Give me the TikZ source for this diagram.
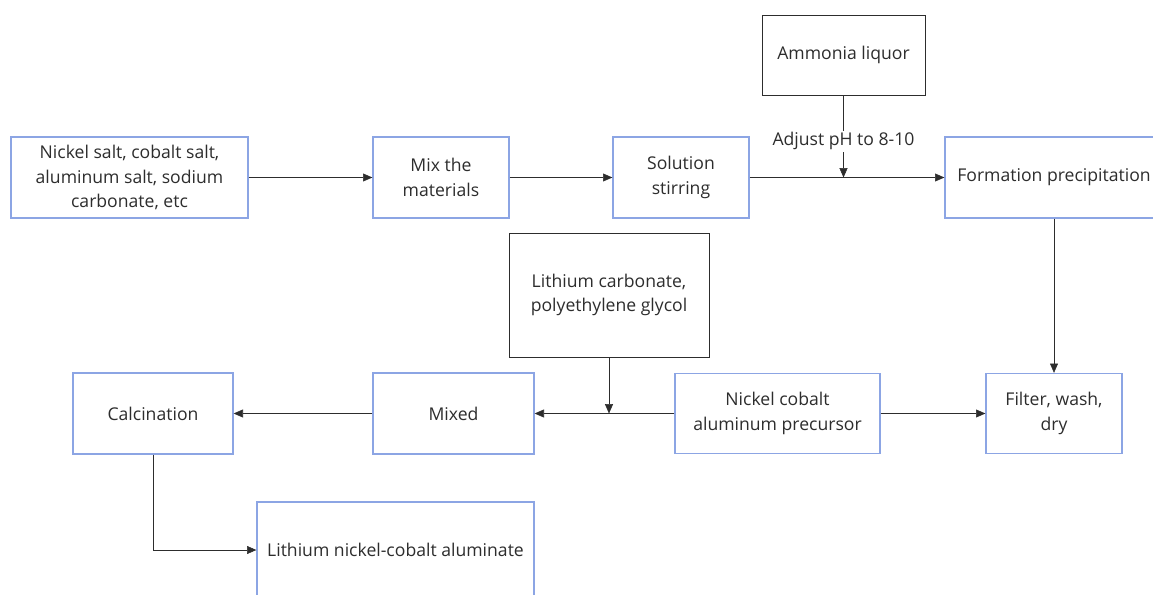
\documentclass[tikz,border=0pt]{standalone}
\usepackage{fontspec}
\setmainfont{Open Sans}
\usepackage{xcolor}
\usetikzlibrary{arrows.meta}
\definecolor{boxblue}{RGB}{140,165,228}
\definecolor{inkgray}{RGB}{45,45,45}

\begin{document}
\begin{tikzpicture}[x=0.75pt, y=-0.75pt, font=\fontsize{13.2pt}{18.4pt}\selectfont, text=inkgray,
  proc/.style={draw=boxblue, line width=1pt, align=center, fill=white, inner sep=2pt},
  feed/.style={draw=inkgray, line width=0.7pt, align=center, fill=white, inner sep=2pt},
  >={Triangle[length=7pt, width=6pt]}]
\useasboundingbox (0,0) rectangle (1153,595);
\node[proc, minimum width=177.75pt, minimum height=60.75pt] (salts) at (129.5,177.5) {Nickel salt, cobalt salt,\\aluminum salt, sodium\\carbonate, etc};
\node[proc, minimum width=102pt, minimum height=60.75pt] (mix) at (441,177.5) {Mix the\\materials};
\node[proc, minimum width=102pt, minimum height=60.75pt] (stir) at (681,177.5) {Solution\\stirring};
\node[feed, minimum width=122.25pt, minimum height=60pt] (ammonia) at (843.5,55) {Ammonia liquor};
\node[proc, minimum width=163.5pt, minimum height=60.75pt] (precip) at (1054,177.5) {Formation precipitation};

\node[feed, minimum width=150pt, minimum height=93pt] (lithium) at (609,295) {Lithium carbonate,\\polyethylene glycol};
\node[proc, minimum width=120pt, minimum height=60.75pt] (calc) at (153,413.5) {Calcination};
\node[proc, minimum width=120.75pt, minimum height=60.75pt] (mixed) at (453.5,413.5) {Mixed};
\node[proc, minimum width=153.75pt, minimum height=60pt] (precursor) at (777.5,413.5) {Nickel cobalt\\aluminum precursor};
\node[proc, minimum width=102pt, minimum height=60pt] (filter) at (1054,413.5) {Filter, wash,\\dry};
\node[proc, minimum width=207.75pt, minimum height=72pt] (product) at (395.5,550) {Lithium nickel-cobalt aluminate};

\draw[->, draw=inkgray] (salts) -- (mix);
\draw[->, draw=inkgray] (mix) -- (stir);
\draw[->, draw=inkgray] (stir) -- (precip);
\draw[->, draw=inkgray] (ammonia) -- (ammonia |- stir) node[pos=0.56, fill=white, inner sep=1pt] {Adjust pH to 8-10};
\draw[->, draw=inkgray] (precip) -- (filter);
\draw[->, draw=inkgray] (precursor) -- (filter);
\draw[->, draw=inkgray] (precursor) -- (mixed);
\draw[->, draw=inkgray] (lithium) -- (lithium |- precursor);
\draw[->, draw=inkgray] (mixed) -- (calc);
\draw[->, draw=inkgray] (calc) |- (product);
\end{tikzpicture}
\end{document}
